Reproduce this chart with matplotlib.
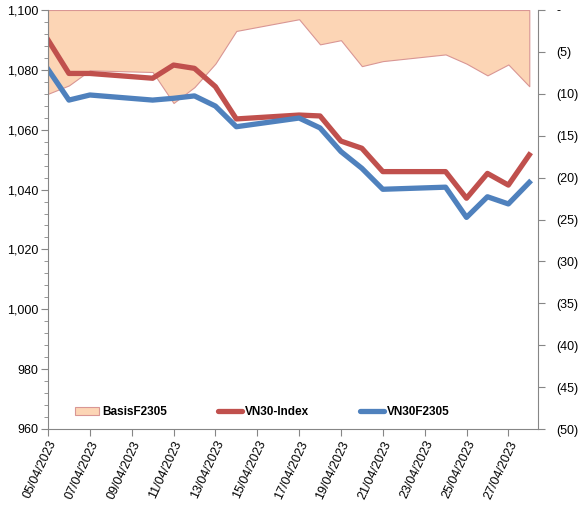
import pandas as pd
import matplotlib
matplotlib.use("Agg")
import matplotlib.pyplot as plt
import matplotlib.dates as mdates
from matplotlib.ticker import FuncFormatter, MultipleLocator
from matplotlib.patches import Patch
from matplotlib.lines import Line2D

# =========================
# DATA
# =========================
dates = pd.to_datetime([
    "2023-04-05", "2023-04-06", "2023-04-07", "2023-04-10", "2023-04-11",
    "2023-04-12", "2023-04-13", "2023-04-14", "2023-04-17", "2023-04-18",
    "2023-04-19", "2023-04-20", "2023-04-21", "2023-04-24", "2023-04-25",
    "2023-04-26", "2023-04-27", "2023-04-28",
])
vn30_index = [1090.0, 1078.8, 1078.8, 1077.2, 1081.6, 1080.5, 1074.4, 1063.6, 1064.9,
              1064.6, 1056.2, 1053.8, 1046.0, 1046.0, 1037.1, 1045.4, 1041.5, 1051.6]
vn30f2305 = [1080.2, 1069.9, 1071.6, 1069.9, 1070.5, 1071.3, 1067.9, 1061.0, 1063.9,
             1060.6, 1052.7, 1047.1, 1040.1, 1040.8, 1030.7, 1037.6, 1035.2, 1042.4]
basis = [-10.0, -9.0, -7.2, -7.4, -11.1, -9.2, -6.4, -2.5, -1.1,
         -4.1, -3.6, -6.7, -6.1, -5.3, -6.4, -7.8, -6.5, -9.1]

# =========================
# STYLE
# =========================
plt.rcParams["font.family"] = ["Liberation Sans", "DejaVu Sans"]
plt.rcParams["font.size"] = 9

red = "#C0504D"
blue = "#4F81BD"
peach = "#FCD5B5"
peach_edge = "#D99694"
axis_grey = "#868686"

fig = plt.figure(figsize=(5.88, 5.07), dpi=100)
ax = fig.add_axes([48 / 588, 1 - 429 / 507, (538 - 48) / 588, (429 - 10) / 507])
ax2 = ax.twinx()

# basis area on secondary axis, behind lines
ax2.fill_between(dates, 0, basis, facecolor=peach, edgecolor=peach_edge, linewidth=0.8)
ax2.set_ylim(-50, 0)
ax2.yaxis.set_major_locator(MultipleLocator(5))
ax2.yaxis.set_major_formatter(FuncFormatter(
    lambda v, p: "-" if abs(v) < 1e-9 else (f"({abs(v):.0f})" if v < 0 else f"{v:.0f}")))

ax.plot(dates, vn30_index, color=red, linewidth=3.8, solid_joinstyle="round")
ax.plot(dates, vn30f2305, color=blue, linewidth=3.8, solid_joinstyle="round")
ax.set_zorder(ax2.get_zorder() + 1)
ax.patch.set_visible(False)

ax.set_ylim(960, 1100)
ax.yaxis.set_major_locator(MultipleLocator(20))
ax.yaxis.set_minor_locator(MultipleLocator(4))
ax.yaxis.set_major_formatter(FuncFormatter(lambda v, p: f"{v:,.0f}"))

ax.set_xlim(pd.Timestamp("2023-04-05"), pd.Timestamp("2023-04-28") + pd.Timedelta(hours=10))
ax.xaxis.set_major_locator(mdates.DayLocator(bymonthday=range(5, 29, 2)))
ax.xaxis.set_major_formatter(mdates.DateFormatter("%d/%m/%Y"))
for lbl in ax.get_xticklabels():
    lbl.set_rotation(65)
    lbl.set_ha("right")
    lbl.set_rotation_mode("anchor")

for a in (ax, ax2):
    for s in a.spines.values():
        s.set_visible(False)
    a.tick_params(which="both", color=axis_grey, labelcolor="black", direction="out")
ax.spines["left"].set_visible(True)
ax.spines["left"].set_color(axis_grey)
ax.spines["bottom"].set_visible(True)
ax.spines["bottom"].set_color(axis_grey)
ax2.spines["right"].set_visible(True)
ax2.spines["right"].set_color(axis_grey)
ax.tick_params(axis="y", which="major", length=5, pad=2)
ax.tick_params(axis="y", which="minor", length=3)
ax.tick_params(axis="x", length=5, pad=2)
ax2.tick_params(axis="y", length=5, pad=8)

# =========================
# LEGEND
# =========================
handles = [
    Patch(facecolor=peach, edgecolor=peach_edge, linewidth=0.8),
    Line2D([0], [0], color=red, linewidth=3.8, solid_capstyle="round"),
    Line2D([0], [0], color=blue, linewidth=3.8, solid_capstyle="round"),
]
leg = ax.legend(handles, ["BasisF2305", "VN30-Index", "VN30F2305"], loc="lower center",
                bbox_to_anchor=(0.438, 0.0), ncol=3, frameon=False, handlelength=2.0,
                handletextpad=0.3, columnspacing=4.3, prop={"weight": "bold", "size": 8.5})

fig.savefig("out.png", dpi=100)
